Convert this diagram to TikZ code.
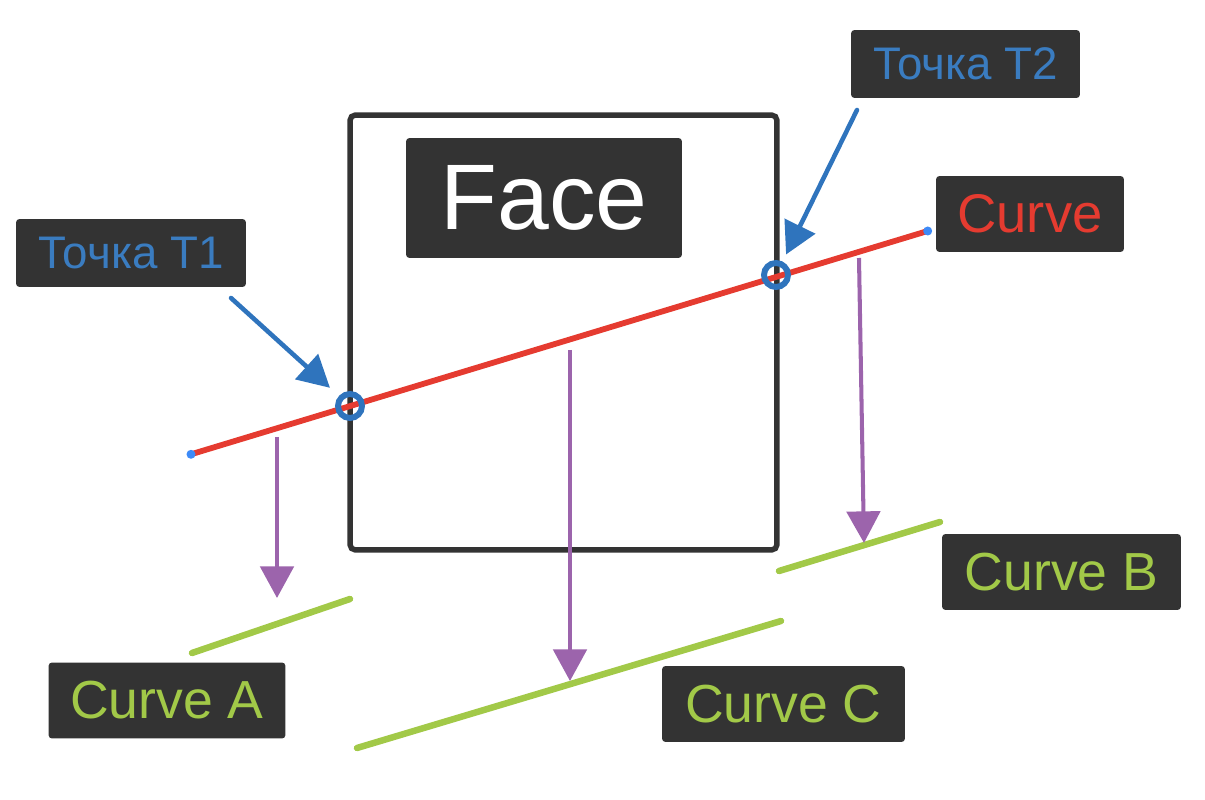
\documentclass[tikz,border=0pt]{standalone}
\usepackage{fontspec}
\setmainfont{Liberation Sans}
\usetikzlibrary{arrows.meta}

\definecolor{boxgray}{HTML}{333333}
\definecolor{pointblue}{HTML}{3A7CC0}
\definecolor{ringblue}{HTML}{2F74BD}
\definecolor{dotblue}{HTML}{3D8AF7}
\definecolor{curvered}{HTML}{E53B30}
\definecolor{curvegreen}{HTML}{A2C948}
\definecolor{projpurple}{HTML}{9C64AC}

\newcommand{\unit}{0.02cm}

\tikzset{
  tag/.style = {fill = boxgray, rounded corners = 2pt, inner sep = 0pt, minimum height = 1.52cm},
  proj/.style = {-{Triangle[length = 18pt, width = 19pt]}, draw = projpurple, line width = 2.3pt},
  pointer/.style = {-{Triangle[length = 18pt, width = 19pt]}, draw = ringblue, line width = 2.6pt}
}

\begin{document}
\begin{tikzpicture}[x = \unit, y = -\unit]
\useasboundingbox (0,0) rectangle (1205,800);

\node[draw = boxgray, line width = 3.1pt, rounded corners = 3pt, minimum width = 8.54cm, minimum height = 8.7cm] (frame) at (563.5,332.5) {};
\node[tag, minimum width = 5.52cm, minimum height = 2.4cm, text = white, font = \fontsize{53}{53}\selectfont] (face) at (544,198) {Face};

\node[tag, minimum width = 4.6cm, minimum height = 1.36cm, text = pointblue, font = \fontsize{26}{26}\selectfont] (t1) at (131,253) {Точка T1};
\node[tag, minimum width = 4.58cm, minimum height = 1.36cm, text = pointblue, font = \fontsize{26}{26}\selectfont] (t2) at (965.5,64) {Точка T2};
\node[tag, minimum width = 3.76cm, text = curvered, font = \fontsize{31}{31}\selectfont] (curve) at (1030,214) {Curve};
\node[tag, minimum width = 4.74cm, text = curvegreen, font = \fontsize{30.5}{30.5}\selectfont] (ca) at (167,700.5) {Curve A};
\node[tag, minimum width = 4.78cm, text = curvegreen, font = \fontsize{30.5}{30.5}\selectfont] (cb) at (1061.5,572) {Curve B};
\node[tag, minimum width = 4.86cm, text = curvegreen, font = \fontsize{30.5}{30.5}\selectfont] (cc) at (783.5,704) {Curve C};

% the curve and its ends
\coordinate (s0) at (191,454.3);
\coordinate (s1) at (927.7,231);
\draw[curvered, line width = 3.3pt] (s0) -- (s1);
\fill[dotblue] (s0) circle (4.5);
\fill[dotblue] (s1) circle (4.5);

% points on the face border
\node[circle, draw = ringblue, line width = 3.4pt, minimum size = 0.48cm, inner sep = 0pt] (p1) at (350,406) {};
\node[circle, draw = ringblue, line width = 3.4pt, minimum size = 0.48cm, inner sep = 0pt] (p2) at (776,275) {};
\coordinate (k1) at (231,298);
\coordinate (k2) at (857,110);
\draw[pointer, line cap = round, shorten > = 15.4pt] (k1) -- (p1.center);
\draw[pointer, line cap = round, shorten > = 13pt] (k2) -- (p2.center);

% projected curves
\coordinate (a0) at (192,653);
\coordinate (a1) at (350,599);
\coordinate (b0) at (779,571);
\coordinate (b1) at (940,522);
\coordinate (c0) at (357,748);
\coordinate (c1) at (781,621);
\draw[curvegreen, line width = 3.7pt, line cap = round] (a0) -- (a1);
\draw[curvegreen, line width = 3.7pt, line cap = round] (b0) -- (b1);
\draw[curvegreen, line width = 3.7pt, line cap = round] (c0) -- (c1);

% projections
\coordinate (u1) at (277,437);
\coordinate (v1) at (277,598);
\coordinate (u2) at (570,350);
\coordinate (v2) at (570,681);
\coordinate (u3) at (859,258);
\coordinate (v3) at (864,543);
\draw[proj] (u1) -- (v1);
\draw[proj] (u2) -- (v2);
\draw[proj] (u3) -- (v3);
\end{tikzpicture}
\end{document}
